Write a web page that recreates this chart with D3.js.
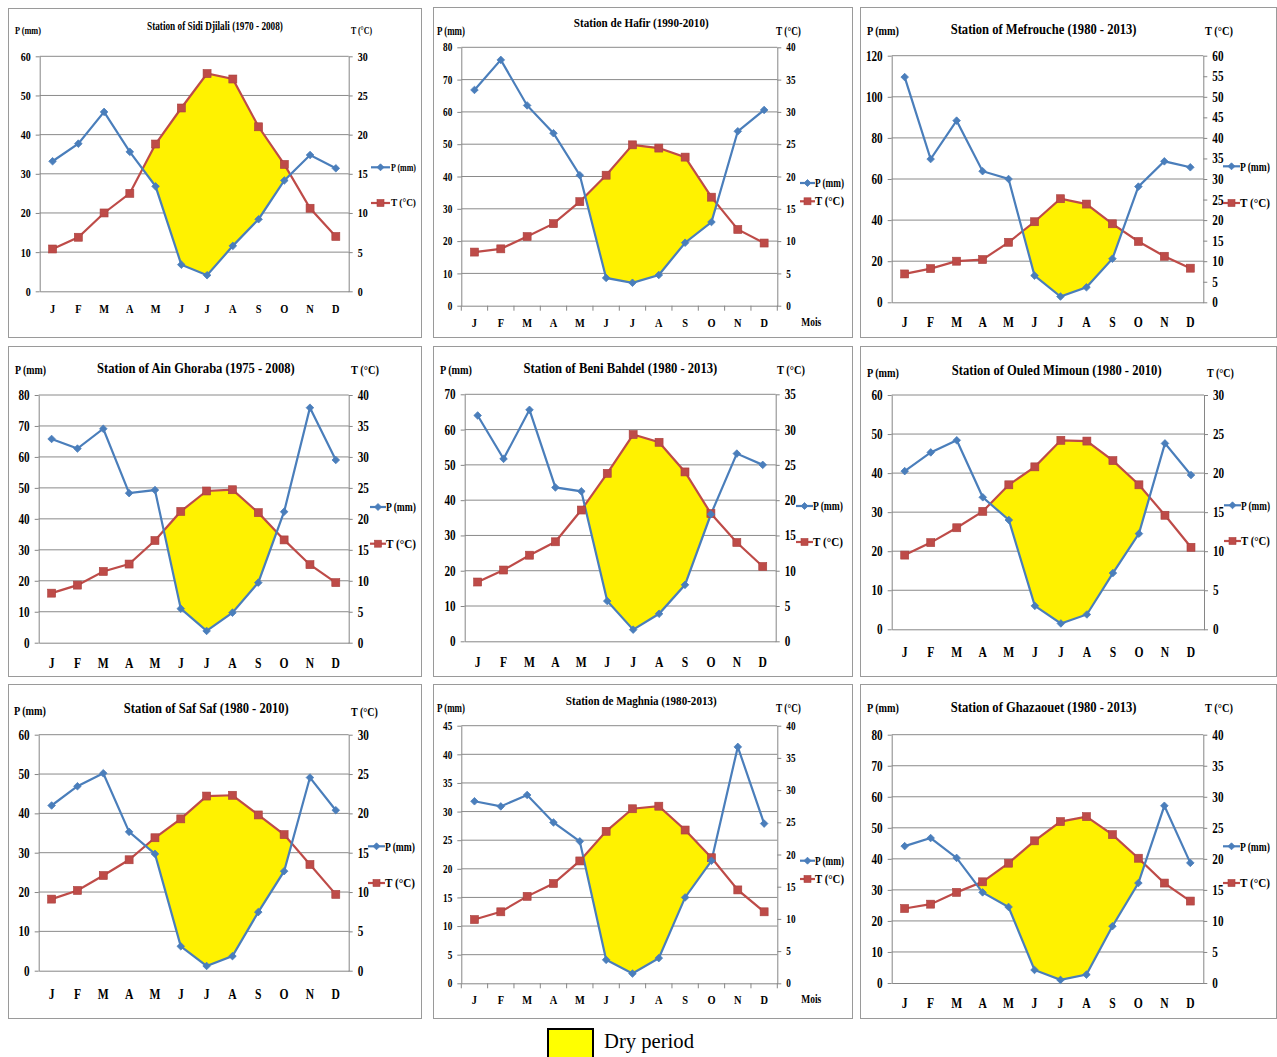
<!DOCTYPE html>
<html>
<head>
<meta charset="utf-8">
<script src="https://cdn.jsdelivr.net/npm/d3@7"></script>
<style>
  html, body { margin: 0; padding: 0; background: #fff; }
  svg { display: block; }
  text { font-family: "Liberation Serif", "Times New Roman", serif; }
</style>
</head>
<body>
<svg id="chart" width="1277" height="1057"></svg>
<script>
// ---------- DATA ----------
const months = ["J", "F", "M", "A", "M", "J", "J", "A", "S", "O", "N", "D"];

const sidiDjilaliP = [33.2, 37.7, 45.8, 35.6, 26.8, 6.8, 4.1, 11.6, 18.4, 28.3, 34.8, 31.4];
const sidiDjilaliT = [5.4, 6.9, 10.0, 12.5, 18.8, 23.4, 27.8, 27.1, 21.0, 16.2, 10.6, 7.0];

const hafirP = [66.8, 76.1, 62.0, 53.4, 40.4, 8.6, 7.1, 9.5, 19.5, 25.9, 54.0, 60.6];
const hafirT = [8.3, 8.8, 10.7, 12.7, 16.1, 20.2, 24.9, 24.4, 23.0, 16.8, 11.8, 9.7];

const mefroucheP = [109.6, 69.7, 88.4, 63.8, 60.0, 13.0, 2.8, 7.3, 21.2, 56.3, 68.6, 65.7];
const mefroucheT = [6.9, 8.2, 10.0, 10.4, 14.6, 19.6, 25.2, 23.9, 19.1, 14.8, 11.2, 8.3];

const ainGhorabaP = [65.8, 62.7, 69.1, 48.3, 49.3, 11.0, 3.8, 9.7, 19.4, 42.3, 75.9, 59.0];
const ainGhorabaT = [8.0, 9.3, 11.5, 12.7, 16.5, 21.2, 24.5, 24.7, 21.0, 16.6, 12.6, 9.7];

const beniBahdelP = [64.0, 51.7, 65.6, 43.6, 42.5, 11.4, 3.3, 7.8, 16.0, 36.0, 53.2, 50.0];
const beniBahdelT = [8.4, 10.1, 12.2, 14.1, 18.6, 23.8, 29.3, 28.2, 24.0, 18.1, 14.0, 10.6];

const ouledMimounP = [40.5, 45.3, 48.4, 33.8, 28.0, 6.0, 1.5, 3.8, 14.4, 24.5, 47.6, 39.5];
const ouledMimounT = [9.5, 11.1, 13.0, 15.1, 18.5, 20.8, 24.2, 24.1, 21.6, 18.5, 14.6, 10.5];

const safSafP = [42.0, 46.9, 50.2, 35.3, 29.7, 6.2, 1.2, 3.7, 14.9, 25.3, 49.1, 40.8];
const safSafT = [9.1, 10.2, 12.1, 14.1, 16.9, 19.3, 22.2, 22.3, 19.8, 17.3, 13.5, 9.7];

const maghniaP = [31.8, 30.9, 32.9, 28.1, 24.8, 4.1, 1.7, 4.4, 15.0, 21.4, 41.3, 27.9];
const maghniaT = [9.9, 11.1, 13.5, 15.5, 19.0, 23.6, 27.1, 27.5, 23.8, 19.5, 14.5, 11.1];

const ghazaouetP = [44.1, 46.7, 40.3, 29.2, 24.5, 4.2, 1.0, 2.7, 18.3, 32.2, 57.1, 38.7];
const ghazaouetT = [12.0, 12.7, 14.6, 16.3, 19.3, 22.9, 26.0, 26.8, 23.9, 20.1, 16.1, 13.2];

// tick labels
const pTicks60 = [0, 10, 20, 30, 40, 50, 60];
const tTicks30 = [0, 5, 10, 15, 20, 25, 30];
const pTicks80 = [0, 10, 20, 30, 40, 50, 60, 70, 80];
const tTicks40 = [0, 5, 10, 15, 20, 25, 30, 35, 40];
const pTicks120 = [0, 20, 40, 60, 80, 100, 120];
const tTicks60 = [0, 5, 10, 15, 20, 25, 30, 35, 40, 45, 50, 55, 60];
const pTicks70 = [0, 10, 20, 30, 40, 50, 60, 70];
const tTicks35 = [0, 5, 10, 15, 20, 25, 30, 35];
const pTicks45 = [0, 5, 10, 15, 20, 25, 30, 35, 40, 45];

const titles = [
  "Station of Sidi Djilali (1970 - 2008)",
  "Station de Hafir (1990-2010)",
  "Station of Mefrouche (1980 - 2013)",
  "Station of Ain Ghoraba (1975 - 2008)",
  "Station of Beni Bahdel (1980 - 2013)",
  "Station of Ouled Mimoun (1980 - 2010)",
  "Station of Saf Saf (1980 - 2010)",
  "Station de Maghnia (1980-2013)",
  "Station of Ghazaouet (1980 - 2013)"
];
const pLabel = "P (mm)";
const tLabel = "T (°C)";
const xLabel = "Mois";
const legendLabel = "Dry period";

const stations = [
  { P: sidiDjilaliP, T: sidiDjilaliT, pTicks: pTicks60, tTicks: tTicks30 },
  { P: hafirP, T: hafirT, pTicks: pTicks80, tTicks: tTicks40 },
  { P: mefroucheP, T: mefroucheT, pTicks: pTicks120, tTicks: tTicks60 },
  { P: ainGhorabaP, T: ainGhorabaT, pTicks: pTicks80, tTicks: tTicks40 },
  { P: beniBahdelP, T: beniBahdelT, pTicks: pTicks70, tTicks: tTicks35 },
  { P: ouledMimounP, T: ouledMimounT, pTicks: pTicks60, tTicks: tTicks30 },
  { P: safSafP, T: safSafT, pTicks: pTicks60, tTicks: tTicks30 },
  { P: maghniaP, T: maghniaT, pTicks: pTicks45, tTicks: tTicks40 },
  { P: ghazaouetP, T: ghazaouetT, pTicks: pTicks80, tTicks: tTicks40 }
];

// ---------- LAYOUT ----------
const layouts = [
  { box: [8, 8, 421, 337], plot: [39.7, 348.7, 56.3, 291.3], title: [215, 26, 136, 12.5],
    pLab: [15, 31, 26, 10], tLab: [351, 31, 21, 10], leg: [371, 390, 391, 25, 167.3, 203, 10],
    monthY: 308, fs: 12.5, mfs: 13, mois: false, xticks: false },
  { box: [433, 7, 852, 337], plot: [461.3, 777.3, 47.3, 305.7], title: [641.3, 22.7, 135, 13],
    pLab: [437, 30.7, 28, 11.5], tLab: [776, 31, 25, 11.5], leg: [800, 815, 815, 29, 183, 201.3, 11.5],
    monthY: 322, fs: 11.5, mfs: 13, mois: true, xticks: true },
  { box: [860, 7, 1276, 337], plot: [891.7, 1203.3, 55.7, 302.3], title: [1043.7, 28.7, 186, 15],
    pLab: [867, 30.7, 32, 13], tLab: [1205, 31, 28, 13], leg: [1223, 1240, 1240, 30, 166.3, 203, 12.5],
    monthY: 322, fs: 14, mfs: 14.5, mois: false, xticks: false },
  { box: [8, 346, 421, 676], plot: [38.7, 348.7, 395, 642.7], title: [196, 367.7, 198, 15],
    pLab: [15, 370, 31, 13], tLab: [351, 370, 28, 13], leg: [370, 386, 386, 30, 507, 543.7, 12.5],
    monthY: 663, fs: 14, mfs: 14.5, mois: false, xticks: false },
  { box: [433, 346, 852, 676], plot: [464.7, 775.7, 394.3, 641.3], title: [620.5, 367.7, 194, 15],
    pLab: [440, 370, 32, 13], tLab: [777, 370, 28, 13], leg: [796, 813, 813, 30, 506, 542, 12.5],
    monthY: 661.7, fs: 14, mfs: 14.5, mois: false, xticks: false },
  { box: [860, 346, 1276, 676], plot: [891.7, 1204, 395, 629.3], title: [1056.8, 369.3, 210, 15.5],
    pLab: [867, 372, 32, 13.5], tLab: [1207, 372, 27, 13.5], leg: [1224, 1241, 1241, 29, 505.3, 541, 12.5],
    monthY: 651.7, fs: 14, mfs: 14.5, mois: false, xticks: false },
  { box: [8, 684, 421, 1018], plot: [38.7, 348.7, 734.7, 970.7], title: [206.3, 707.3, 165, 15.5],
    pLab: [14, 710.7, 32, 13.5], tLab: [351, 711, 27, 13.5], leg: [368, 385, 385, 30, 846.3, 883, 12.5],
    monthY: 994, fs: 14, mfs: 14.5, mois: false, xticks: false },
  { box: [433, 684, 852, 1018], plot: [461.3, 777.3, 725.7, 983.3], title: [641.3, 700.7, 151, 13],
    pLab: [437, 708, 28, 11.5], tLab: [776, 708, 25, 11.5], leg: [800, 815, 815, 29, 860.7, 879, 11.5],
    monthY: 999, fs: 11.5, mfs: 13, mois: true, xticks: true },
  { box: [860, 684, 1276, 1018], plot: [891.7, 1203.3, 734.7, 983], title: [1043.7, 706.7, 186, 15],
    pLab: [867, 708, 32, 13], tLab: [1205, 708, 28, 13], leg: [1223, 1240, 1240, 30, 846.3, 883, 12.5],
    monthY: 1003, fs: 14, mfs: 14.5, mois: false, xticks: false }
];

const COL_P = "#4a7ebb", COL_T = "#be4b48", COL_DRY = "#fff200", COL_GRID = "#8a8a8a";
const SX = 0.8;

const svg = d3.select("#chart");

// text squeezed horizontally to a target width via a scale transform
function fitText(g, str, x, y, w, fs, bold) {
  const t = g.append("text")
    .attr("x", 0).attr("y", 0)
    .attr("font-size", fs).attr("font-weight", bold ? "bold" : "normal")
    .attr("fill", "#000").text(str);
  const nat = t.node().getComputedTextLength() || w;
  const s = w / nat;
  t.attr("transform", `translate(${x},${y + fs * 0.34}) scale(${s},1)`);
  return t;
}

function diamond(g, x, y, r) {
  g.append("path").attr("d", `M${x},${y - r}L${x + r},${y}L${x},${y + r}L${x - r},${y}Z`)
    .attr("fill", COL_P).attr("stroke", COL_P).attr("stroke-width", 0.8);
}
function square(g, x, y, s) {
  g.append("rect").attr("x", x - s / 2).attr("y", y - s / 2).attr("width", s).attr("height", s)
    .attr("fill", COL_T).attr("stroke", "#a8403d").attr("stroke-width", 0.6);
}

function drawPanel(st, L, title) {
  const g = svg.append("g");
  const [bx0, by0, bx1, by1] = L.box;
  g.append("rect").attr("x", bx0 + 0.5).attr("y", by0 + 0.5)
    .attr("width", bx1 - bx0).attr("height", by1 - by0)
    .attr("fill", "#fff").attr("stroke", "#9a9a9a").attr("stroke-width", 1);

  const [left, right, top, bottom] = L.plot;
  const x = d3.scaleBand().domain(d3.range(12)).range([left, right]);
  const cx = i => x(i) + x.bandwidth() / 2;
  const yP = d3.scaleLinear().domain([0, d3.max(st.pTicks)]).range([bottom, top]);
  const yT = d3.scaleLinear().domain([0, d3.max(st.tTicks)]).range([bottom, top]);

  // gridlines
  g.append("g").selectAll("line").data(st.pTicks.slice(1)).join("line")
    .attr("x1", left).attr("x2", right)
    .attr("y1", d => yP(d)).attr("y2", d => yP(d))
    .attr("stroke", COL_GRID).attr("stroke-width", 1);

  // dry period polygons: where the T curve lies above the P curve
  const pts = st.P.map((p, i) => ({ x: cx(i), p: yP(p), t: yT(st.T[i]) }));
  const d = pts.map(o => o.p - o.t);
  const cross = i => {
    const f = d[i] / (d[i] - d[i + 1]);
    return [pts[i].x + f * (pts[i + 1].x - pts[i].x), pts[i].t + f * (pts[i + 1].t - pts[i].t)];
  };
  const polys = [];
  let up = null, lo = null;
  for (let i = 0; i < 12; i++) {
    if (d[i] > 0) {
      if (!up) { up = []; lo = []; if (i > 0) up.push(cross(i - 1)); }
      up.push([pts[i].x, pts[i].t]);
      lo.push([pts[i].x, pts[i].p]);
      if (i === 11 || d[i + 1] <= 0) {
        if (i < 11) up.push(cross(i));
        polys.push(up.concat(lo.reverse()));
        up = null; lo = null;
      }
    }
  }
  g.append("g").selectAll("path").data(polys).join("path")
    .attr("d", p => "M" + p.map(q => q.join(",")).join("L") + "Z")
    .attr("fill", COL_DRY).attr("stroke", "none");

  // axes
  const axStyle = sel => {
    sel.selectAll("path.domain").attr("stroke", "#868686").attr("stroke-width", 1);
    sel.selectAll(".tick line").attr("stroke", "#868686");
  };
  const gl = g.append("g").attr("transform", `translate(${left},0)`)
    .call(d3.axisLeft(yP).tickValues(st.pTicks).tickSize(4).tickSizeOuter(0).tickFormat(d3.format("d")))
    .call(axStyle);
  gl.selectAll(".tick text").attr("x", -9 / SX).attr("transform", `scale(${SX},1)`)
    .attr("font-size", L.fs).attr("font-weight", "bold").attr("font-family", null).attr("fill", "#000");

  const gr = g.append("g").attr("transform", `translate(${right},0)`)
    .call(d3.axisRight(yT).tickValues(st.tTicks).tickSize(4).tickSizeOuter(0).tickFormat(d3.format("d")))
    .call(axStyle);
  gr.selectAll(".tick text").attr("x", 9 / SX).attr("transform", `scale(${SX},1)`)
    .attr("font-size", L.fs).attr("font-weight", "bold").attr("font-family", null).attr("fill", "#000");

  const gb = g.append("g").attr("transform", `translate(0,${bottom})`)
    .call(d3.axisBottom(x).tickSize(0).tickSizeOuter(0).tickFormat(i => months[i]))
    .call(axStyle);
  gb.selectAll(".tick text").attr("y", L.monthY - bottom).attr("dy", "0.36em")
    .attr("transform", `scale(${SX},1)`)
    .attr("font-size", L.mfs).attr("font-weight", "bold").attr("font-family", null).attr("fill", "#000");
  if (L.xticks) {
    g.append("g").selectAll("line").data(d3.range(13)).join("line")
      .attr("x1", i => i < 12 ? x(i) : right).attr("x2", i => i < 12 ? x(i) : right)
      .attr("y1", bottom).attr("y2", bottom + 5)
      .attr("stroke", "#868686");
  }
  if (L.mois) {
    fitText(g, xLabel, right + 24, L.monthY, 20, L.mfs - 1, true);
  }

  // lines
  const lineP = d3.line().x((v, i) => cx(i)).y(v => yP(v));
  const lineT = d3.line().x((v, i) => cx(i)).y(v => yT(v));
  g.append("path").attr("d", lineT(st.T)).attr("fill", "none").attr("stroke", COL_T).attr("stroke-width", 2.2);
  g.append("path").attr("d", lineP(st.P)).attr("fill", "none").attr("stroke", COL_P).attr("stroke-width", 2.2);
  st.T.forEach((v, i) => square(g, cx(i), yT(v), 8));
  st.P.forEach((v, i) => diamond(g, cx(i), yP(v), 3.8));

  // titles
  fitText(g, title, L.title[0] - L.title[2] / 2, L.title[1], L.title[2], L.title[3], true);
  fitText(g, pLabel, L.pLab[0], L.pLab[1], L.pLab[2], L.pLab[3], true);
  fitText(g, tLabel, L.tLab[0], L.tLab[1], L.tLab[2], L.tLab[3], true);

  // legend
  const [lx0, lx1, tx, tw, pyL, tyL, lfs] = L.leg;
  g.append("line").attr("x1", lx0).attr("x2", lx1).attr("y1", pyL).attr("y2", pyL)
    .attr("stroke", COL_P).attr("stroke-width", 2.2);
  diamond(g, (lx0 + lx1) / 2, pyL, 3.5);
  fitText(g, pLabel, tx, pyL, tw, lfs, true);
  g.append("line").attr("x1", lx0).attr("x2", lx1).attr("y1", tyL).attr("y2", tyL)
    .attr("stroke", COL_T).attr("stroke-width", 2.2);
  square(g, (lx0 + lx1) / 2, tyL, 7);
  fitText(g, tLabel, tx, tyL, tw, lfs, true);
}

stations.forEach((st, k) => drawPanel(st, layouts[k], titles[k]));

// bottom legend
svg.append("rect").attr("x", 548).attr("y", 1029).attr("width", 45).attr("height", 32)
  .attr("fill", "#ffff00").attr("stroke", "#000").attr("stroke-width", 2);
fitText(svg, legendLabel, 604, 1041, 90, 21, false);
</script>
</body>
</html>
